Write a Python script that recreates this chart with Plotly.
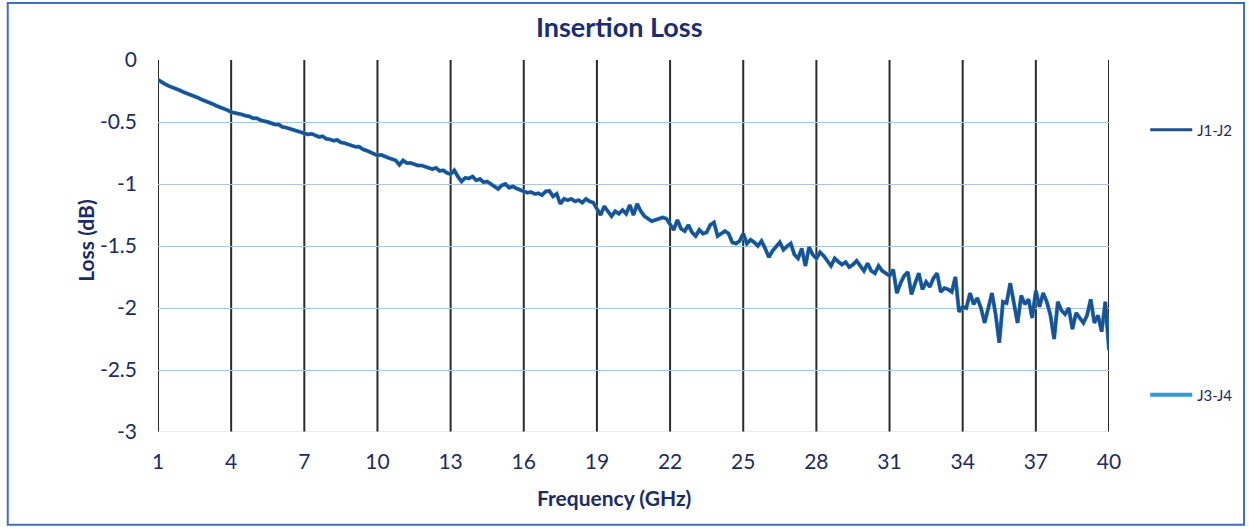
import numpy as np
import plotly.graph_objects as go

# Frequency sweep: 1 to 40 GHz, 0.15 GHz step (261 points)
freq_start, freq_stop, n_points = 1.0, 40.0, 261
freq = np.linspace(freq_start, freq_stop, n_points)

# J1-J2 insertion loss (dB), 20 points per 3 GHz
j1_j2 = [
    # 1.0 - 3.85
    -0.16, -0.18, -0.195, -0.21, -0.22, -0.235, -0.245, -0.26, -0.27, -0.285,
    -0.295, -0.305, -0.32, -0.33, -0.345, -0.355, -0.37, -0.38, -0.395, -0.405,
    # 4.0 - 6.85
    -0.42, -0.425, -0.435, -0.44, -0.45, -0.455, -0.47, -0.47, -0.485, -0.49,
    -0.50, -0.51, -0.52, -0.52, -0.54, -0.545, -0.555, -0.56, -0.575, -0.58,
    # 7.0 - 9.85
    -0.59, -0.60, -0.595, -0.61, -0.62, -0.615, -0.635, -0.64, -0.65, -0.645,
    -0.665, -0.67, -0.68, -0.69, -0.70, -0.70, -0.72, -0.73, -0.745, -0.755,
    # 10.0 - 12.85
    -0.77, -0.765, -0.78, -0.79, -0.80, -0.81, -0.845, -0.81, -0.83, -0.83,
    -0.84, -0.85, -0.85, -0.86, -0.865, -0.88, -0.87, -0.895, -0.89, -0.91,
    # 13.0 - 15.85
    -0.92, -0.89, -0.94, -0.98, -0.95, -0.955, -0.94, -0.97, -0.96, -0.985,
    -0.98, -1.00, -1.02, -1.04, -1.01, -1.00, -1.03, -1.02, -1.035, -1.05,
    # 16.0 - 18.85
    -1.06, -1.07, -1.065, -1.08, -1.075, -1.09, -1.06, -1.055, -1.10, -1.08,
    -1.16, -1.12, -1.13, -1.12, -1.14, -1.13, -1.15, -1.12, -1.14, -1.15,
    # 19.0 - 21.85
    -1.20, -1.25, -1.18, -1.22, -1.26, -1.22, -1.24, -1.21, -1.24, -1.17,
    -1.25, -1.16, -1.22, -1.26, -1.28, -1.30, -1.29, -1.28, -1.27, -1.28,
    # 22.0 - 24.85
    -1.32, -1.37, -1.29, -1.36, -1.38, -1.33, -1.39, -1.42, -1.37, -1.40,
    -1.39, -1.33, -1.31, -1.42, -1.40, -1.38, -1.40, -1.47, -1.48, -1.46,
    # 25.0 - 27.85
    -1.40, -1.48, -1.45, -1.47, -1.50, -1.46, -1.52, -1.59, -1.54, -1.50,
    -1.47, -1.53, -1.50, -1.48, -1.57, -1.60, -1.52, -1.66, -1.51, -1.57,
    # 28.0 - 30.85
    -1.60, -1.55, -1.58, -1.62, -1.66, -1.60, -1.63, -1.65, -1.63, -1.67,
    -1.65, -1.62, -1.66, -1.70, -1.64, -1.70, -1.72, -1.66, -1.70, -1.72,
    # 31.0 - 33.85
    -1.74, -1.69, -1.88, -1.80, -1.74, -1.71, -1.89, -1.80, -1.72, -1.85,
    -1.79, -1.83, -1.76, -1.72, -1.87, -1.84, -1.85, -1.87, -1.75, -2.03,
    # 34.0 - 36.85
    -1.99, -2.00, -1.88, -1.97, -1.92, -2.00, -2.12, -2.00, -1.88, -2.05,
    -2.28, -1.95, -1.96, -1.80, -1.95, -2.12, -1.90, -1.97, -1.93, -2.08,
    # 37.0 - 39.85
    -1.86, -1.99, -1.88, -1.95, -2.06, -2.25, -1.95, -2.02, -2.05, -2.00,
    -2.17, -2.04, -2.08, -2.12, -2.06, -1.93, -2.12, -2.06, -2.19, -1.95,
    # 40.0
    -2.34,
]

# J3-J4 coincides with J1-J2 at the picture's resolution (hidden underneath)
j3_j4 = list(j1_j2)

x_ticks = [1, 4, 7, 10, 13, 16, 19, 22, 25, 28, 31, 34, 37, 40]
y_ticks = [0, -0.5, -1, -1.5, -2, -2.5, -3]

TEXT = "#1c2c62"
FONT = "Lato"

fig = go.Figure()
fig.add_trace(go.Scatter(
    x=freq, y=j3_j4, mode="lines", name="J3-J4",
    line=dict(color="#2f9ad8", width=4), legend="legend2", showlegend=True,
))
fig.add_trace(go.Scatter(
    x=freq, y=j1_j2, mode="lines", name="J1-J2",
    line=dict(color="#1f4f8e", width=3), legend="legend", showlegend=True,
))

# vertical black gridlines at each x tick
for xv in x_ticks:
    fig.add_shape(type="line", xref="x", yref="y", x0=xv, x1=xv, y0=-3, y1=0,
                  line=dict(color="#2b2b2b", width=2), layer="below")

# light gray bottom line at -3
fig.add_shape(type="line", xref="x", yref="y", x0=1, x1=40, y0=-3, y1=-3,
              line=dict(color="#d6d6d6", width=1), layer="below")

# outer frame of the chart
fig.add_shape(type="rect", xref="paper", yref="paper",
              x0=-0.158, x1=1.142, y0=-0.249, y1=1.153,
              line=dict(color="#3e6fbf", width=2))

fig.update_layout(
    width=1249, height=527,
    margin=dict(l=158, r=139, t=60, b=95),
    paper_bgcolor="white", plot_bgcolor="white",
    showlegend=True,
    font=dict(family=FONT, color=TEXT, size=21),
    title=dict(text="<b>Insertion Loss</b>", x=0.485, xref="paper", xanchor="center",
               y=1 - 28 / 527, yanchor="middle",
               font=dict(family=FONT, size=27, color="#1b2f70")),
    xaxis=dict(range=[1, 40], tickvals=x_ticks, ticktext=[str(v) for v in x_ticks],
               showgrid=False, zeroline=False, showline=False, ticks="",
               ticklabelstandoff=15, tickfont=dict(size=21, color=TEXT)),
    yaxis=dict(range=[-3, 0], tickvals=y_ticks, ticktext=[("%g" % v) for v in y_ticks],
               showgrid=True, gridcolor="#a9c6e8", gridwidth=1, zeroline=False,
               showline=False, ticks="", ticklabelstandoff=20,
               tickfont=dict(size=21, color=TEXT)),
    legend=dict(x=1.037, y=0.812, xanchor="left", yanchor="middle", itemwidth=42,
                bgcolor="rgba(0,0,0,0)", font=dict(size=15, color=TEXT, family=FONT)),
    legend2=dict(x=1.037, y=0.0995, xanchor="left", yanchor="middle", itemwidth=42,
                 bgcolor="rgba(0,0,0,0)", font=dict(size=15, color=TEXT, family=FONT)),
    annotations=[
        dict(text="<b>Frequency (GHz)</b>", xref="paper", yref="paper",
             x=0.48, y=-0.175, xanchor="center", yanchor="middle", showarrow=False,
             font=dict(size=21, color=TEXT, family=FONT)),
        dict(text="<b>Loss (dB)</b>", xref="paper", yref="paper",
             x=-0.077, y=0.516, xanchor="center", yanchor="middle", showarrow=False,
             textangle=-90, font=dict(size=21, color=TEXT, family=FONT)),
    ],
)

fig.write_html("out.html", config={"displayModeBar": False},
               post_script="document.body.style.margin='0';document.body.style.overflow='hidden';")
